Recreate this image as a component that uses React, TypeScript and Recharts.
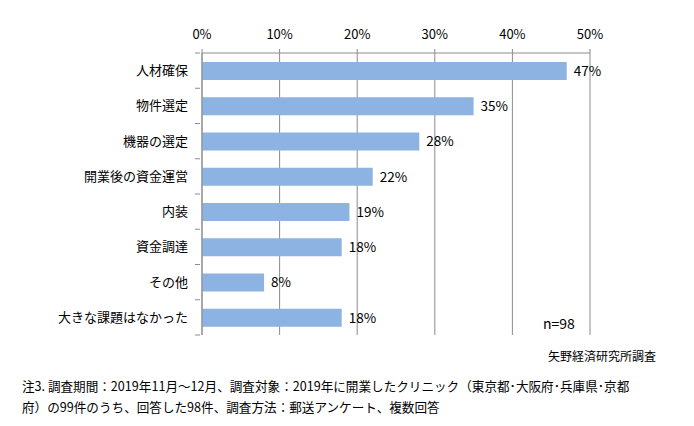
// Clinic opening survey: issues faced when opening (horizontal bar, % of respondents)
import { BarChart, Bar, XAxis, YAxis, CartesianGrid, LabelList } from "recharts";

const CATEGORIES = [
  "人材確保",
  "物件選定",
  "機器の選定",
  "開業後の資金運営",
  "内装",
  "資金調達",
  "その他",
  "大きな課題はなかった",
];
const SHARES = [47, 35, 28, 22, 19, 18, 8, 18];
const X_TICKS = [0, 10, 20, 30, 40, 50];

const FONT = '"Noto Sans CJK JP", "Noto Sans", sans-serif';
const GRID = "#8c8c8c";
const BAR = "#8db3e2";

const CHART_W = 694;
const CHART_H = 345;
const MARGIN = { top: 23, right: 104, left: 2, bottom: 10 };
const X_AXIS_H = 30;
const BAND = (CHART_H - MARGIN.top - MARGIN.bottom - X_AXIS_H) / CATEGORIES.length;

const data = CATEGORIES.map((name, i) => ({ name, share: SHARES[i] }));

// Excel-style category tick: label at the band centre, tick mark on the band boundary
function CatTick(props: any) {
  const { x, y, payload, index } = props;
  const last = index === CATEGORIES.length - 1;
  return (
    <g>
      <line x1={x + 1} x2={x + 6} y1={y - BAND / 2} y2={y - BAND / 2} stroke={GRID} />
      {last && <line x1={x + 1} x2={x + 6} y1={y + BAND / 2} y2={y + BAND / 2} stroke={GRID} />}
      <text x={x - 6} y={y} dy={4.5} textAnchor="end" fontSize={13} fill="#000" fontFamily={FONT}>
        {payload.value}
      </text>
    </g>
  );
}

export default function App() {
  return (
    <div style={{ position: "absolute", left: 0, top: 0, width: 694, height: 426, background: "#fff", fontFamily: FONT }}>
      <BarChart width={CHART_W} height={CHART_H} data={data} layout="vertical" margin={MARGIN}>
        <CartesianGrid stroke={GRID} horizontal={false} />
        <XAxis
          type="number"
          orientation="top"
          domain={[0, 50]}
          ticks={X_TICKS}
          height={X_AXIS_H}
          tickFormatter={(v) => `${v}%`}
          stroke={GRID}
          tickSize={4}
          tickMargin={10}
          tick={{ fill: "#000", fontSize: 13, fontFamily: FONT }}
        />
        <YAxis
          type="category"
          dataKey="name"
          width={200}
          stroke={GRID}
          tickLine={false}
          tick={<CatTick />}
          interval={0}
        />
        <Bar dataKey="share" fill={BAR} barSize={18} isAnimationActive={false}>
          <LabelList
            dataKey="share"
            position="right"
            offset={7}
            formatter={(v: any) => `${v}%`}
            style={{ fill: "#000", fontSize: 13.5, fontFamily: FONT }}
          />
        </Bar>
      </BarChart>
      <div style={{ position: "absolute", left: 543, top: 313, fontSize: 14, color: "#000" }}>n=98</div>
      <div style={{ position: "absolute", left: 548, top: 347, fontSize: 12, color: "#000" }}>矢野経済研究所調査</div>
      <div style={{ position: "absolute", left: 22, top: 375, width: 660, fontSize: 12.6, lineHeight: "21px", color: "#000" }}>
        注3. 調査期間：2019年11月～12月、調査対象：2019年に開業したクリニック（東京都･大阪府･兵庫県･京都
        <br />
        府）の99件のうち、回答した98件、調査方法：郵送アンケート、複数回答
      </div>
    </div>
  );
}
